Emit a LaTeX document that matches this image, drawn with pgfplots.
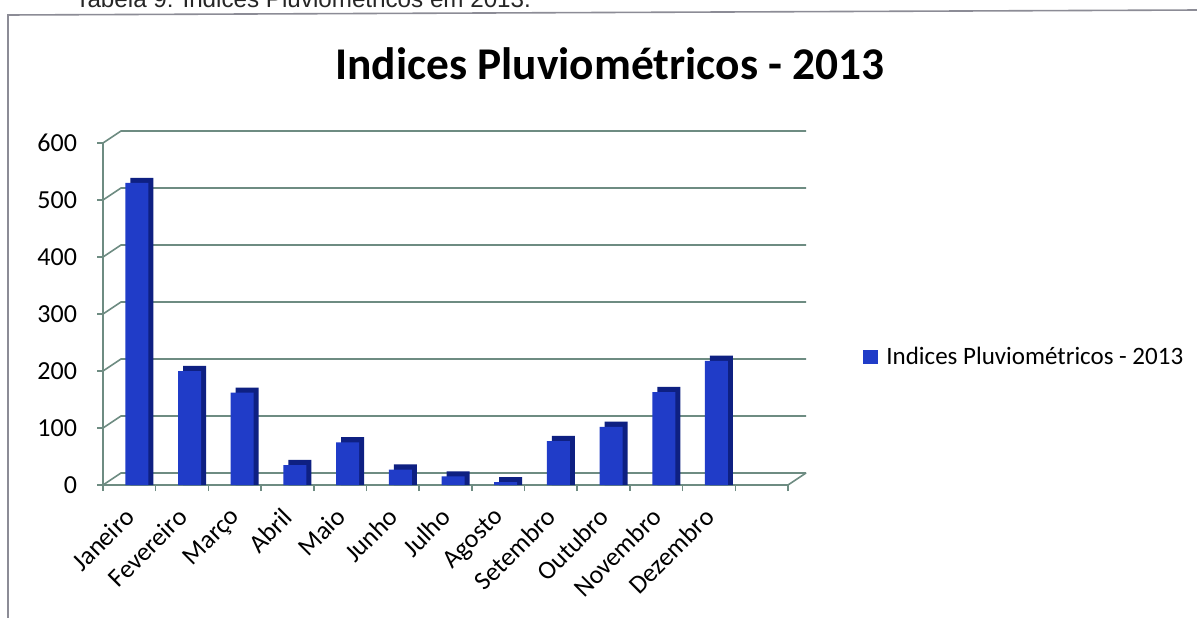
\documentclass[border=0pt]{standalone}
\usepackage{fontspec}
\setmainfont{Carlito}
\newfontfamily\arialf{Liberation Sans}
\usepackage{pgfplots}
\pgfplotsset{compat=1.18}
\definecolor{barfront}{RGB}{32,60,200}
\definecolor{barside}{RGB}{14,32,130}
\definecolor{gridc}{RGB}{110,140,130}
\definecolor{framec}{RGB}{140,140,150}
\begin{document}
\begin{tikzpicture}
\useasboundingbox (0,0) rectangle (598.5pt,308.5pt);
\clip (0,0) rectangle (598.5pt,308.5pt);
\fill[white] (0,0) rectangle (598.5pt,308.5pt);
\draw[framec, line width=0.8pt] (4pt,-5pt) -- (4pt,301pt) -- (600pt,303.5pt);
\node[anchor=base west, inner sep=0pt, font=\arialf\fontsize{12.1}{14}\selectfont, text=black!85] at (37.5pt,304.5pt) {Tabela 9: Índices Pluviométricos em 2013.};
\node[anchor=base, inner sep=0pt, font=\bfseries\fontsize{22.7}{26}\selectfont] at (305pt,268.5pt) {Indices Pluviométricos - 2013};
\begin{axis}[
  at={(51.5pt,66pt)}, anchor=south west,
  scale only axis, width=342.5pt, height=171pt,
  xmin=-0.5, xmax=12.5, ymin=0, ymax=600,
  clip=false,
  axis x line*=bottom, axis y line*=left,
  axis line style={gridc, line width=0.8pt},
  ytick={0,100,...,600},
  xtick={-0.5,0.5,...,12.5},
  x tick label as interval,
  xticklabels={Janeiro,Fevereiro,Março,Abril,Maio,Junho,Julho,Agosto,Setembro,Outubro,Novembro,Dezembro,{}},
  tick align=outside,
  tick style={gridc, line width=0.8pt},
  major tick length=3pt,
  xticklabel style={yshift=-6pt, xshift=-3pt, rotate=45, anchor=north east, inner sep=1pt, font=\fontsize{13}{15}\selectfont},
  yticklabel style={font=\fontsize{13}{15}\selectfont, xshift=-6.5pt},
  /pgf/number format/assume math mode=true,
  ybar, bar width=11.5pt,
  legend style={at={(1.1095,0.374)}, anchor=west, draw=none, fill=none, font=\fontsize{12.5}{14}\selectfont, inner xsep=0pt},
  legend image code/.code={\fill[barfront] (0pt,-3.5pt) rectangle (7.5pt,3.5pt);},
]
\pgfplotsinvokeforeach{0,100,...,600}{
  \draw[gridc, line width=0.8pt] (axis cs:-0.5,#1) -- ++(9pt,6pt) -- ([xshift=9pt,yshift=6pt]axis cs:12.5,#1);
}
\draw[gridc, line width=0.8pt] (axis cs:12.5,0) -- ++(9pt,6pt);
\addplot[forget plot, fill=barside, draw=none, bar shift=6.25pt] coordinates {
 (0,539) (1,209) (2,171) (3,44) (4,84) (5,36) (6,24) (7,14) (8,86) (9,111) (10,172) (11,227)};
\addplot[fill=barfront, draw=none, bar shift=3.75pt] coordinates {
 (0,530) (1,200) (2,162) (3,35) (4,75) (5,27) (6,15) (7,5) (8,77) (9,102) (10,163) (11,218)};
\addlegendentry{\hspace{2pt}Indices Pluviométricos - 2013}
\end{axis}
\end{tikzpicture}
\end{document}
